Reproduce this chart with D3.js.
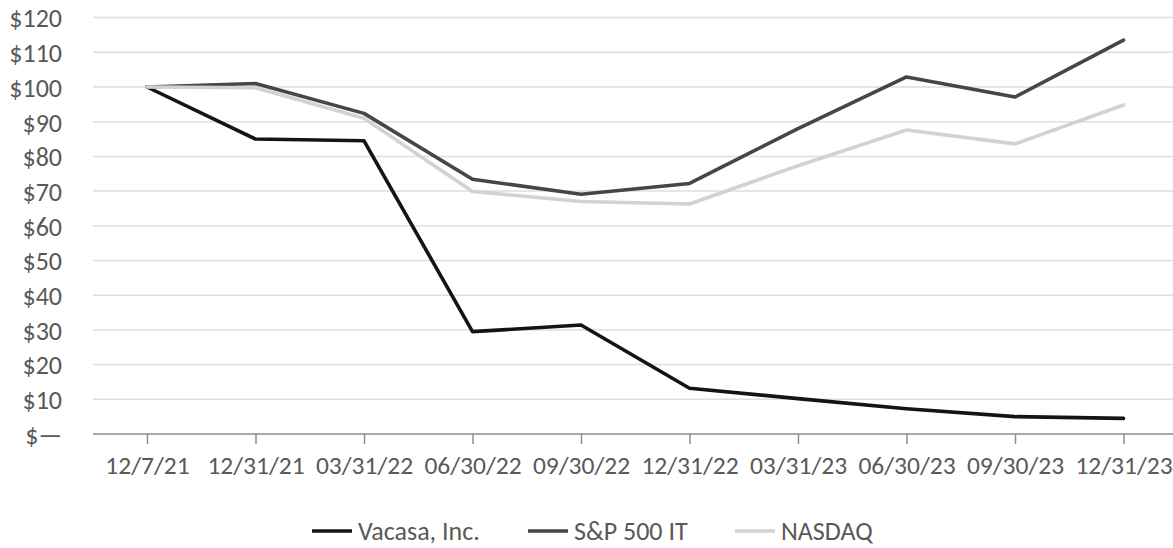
<!DOCTYPE html>
<html>
<head>
<meta charset="utf-8">
<script src="https://cdn.jsdelivr.net/npm/d3@7"></script>
<style>
  html, body { margin: 0; padding: 0; background: #ffffff; }
  svg { display: block; }
  text { font-family: Carlito, Calibri, Lato, "Open Sans", sans-serif; fill: #595959; }
</style>
</head>
<body>
<svg id="chart" width="1173" height="548"></svg>
<script>
// ---- data ----
const categories = ["12/7/21", "12/31/21", "03/31/22", "06/30/22", "09/30/22", "12/31/22", "03/31/23", "06/30/23", "09/30/23", "12/31/23"];
const vacasa = [100, 85.0, 84.5, 29.5, 31.4, 13.2, 10.2, 7.3, 5.0, 4.5];
const sp500IT = [100, 101.0, 92.4, 73.4, 69.1, 72.2, 88.0, 102.9, 97.1, 113.5];
const nasdaq = [100, 99.8, 91.0, 69.9, 67.0, 66.3, 77.3, 87.6, 83.6, 94.8];
const seriesNames = ["Vacasa, Inc.", "S&P 500 IT", "NASDAQ"];
const seriesColors = ["#141414", "#464646", "#d2d2d2"];
const yTicks = [0, 10, 20, 30, 40, 50, 60, 70, 80, 90, 100, 110, 120];

const seriesValues = [vacasa, sp500IT, nasdaq];

const svg = d3.select("#chart");
const fontSize = 26;
const xFontSize = 25.5;

const x = d3.scalePoint().domain(categories).range([147, 1123.5]);
const y = d3.scaleLinear().domain([0, 120]).range([434, 17.6]);
const plotLeft = 93, plotRight = 1180;

// gridlines
svg.append("g").selectAll("line")
  .data(yTicks.filter(d => d !== 0))
  .join("line")
  .attr("x1", plotLeft).attr("x2", plotRight)
  .attr("y1", d => y(d)).attr("y2", d => y(d))
  .attr("stroke", "#dedede").attr("stroke-width", 1.5);

// y axis labels
const yAxis = d3.axisLeft(y).tickValues(yTicks)
  .tickFormat(d => d === 0 ? "$\u2014" : "$" + d)
  .tickSize(0).tickPadding(0);
const yg = svg.append("g").attr("transform", "translate(62,0)").call(yAxis);
yg.select(".domain").remove();
yg.selectAll("text")
  .attr("font-family", "Carlito, Calibri, Lato, sans-serif")
  .attr("font-size", fontSize).attr("fill", "#595959")
  .attr("dy", "0.36em");

// x axis
const xAxis = d3.axisBottom(x).tickSize(10).tickPadding(12);
const xg = svg.append("g").attr("transform", `translate(0,${y(0)})`).call(xAxis);
xg.select(".domain").remove();
xg.selectAll(".tick line").attr("stroke", "#8c8c8c").attr("stroke-width", 1.5);
xg.selectAll("text")
  .attr("font-family", "Carlito, Calibri, Lato, sans-serif")
  .attr("font-size", xFontSize).attr("fill", "#595959");
svg.append("line")
  .attr("x1", plotLeft).attr("x2", plotRight)
  .attr("y1", y(0)).attr("y2", y(0))
  .attr("stroke", "#8c8c8c").attr("stroke-width", 1.5);

// series lines
const line = d3.line()
  .x((d, i) => x(categories[i]))
  .y(d => y(d));

svg.append("g").selectAll("path")
  .data(seriesValues)
  .join("path")
  .attr("d", d => line(d))
  .attr("fill", "none")
  .attr("stroke", (d, i) => seriesColors[i])
  .attr("stroke-width", 3.6)
  .attr("stroke-linejoin", "round")
  .attr("stroke-linecap", "round");

// legend
const legendX = [312, 528, 735];
const legendY = 531;
const lg = svg.append("g").selectAll("g")
  .data(seriesNames)
  .join("g")
  .attr("transform", (d, i) => `translate(${legendX[i]},${legendY})`);
lg.append("line")
  .attr("x1", 0).attr("x2", 40).attr("y1", 0).attr("y2", 0)
  .attr("stroke", (d, i) => seriesColors[i])
  .attr("stroke-width", 3.6);
lg.append("text")
  .attr("x", 46).attr("y", 0).attr("dy", "0.36em")
  .attr("font-size", fontSize)
  .text(d => d);
</script>
</body>
</html>
